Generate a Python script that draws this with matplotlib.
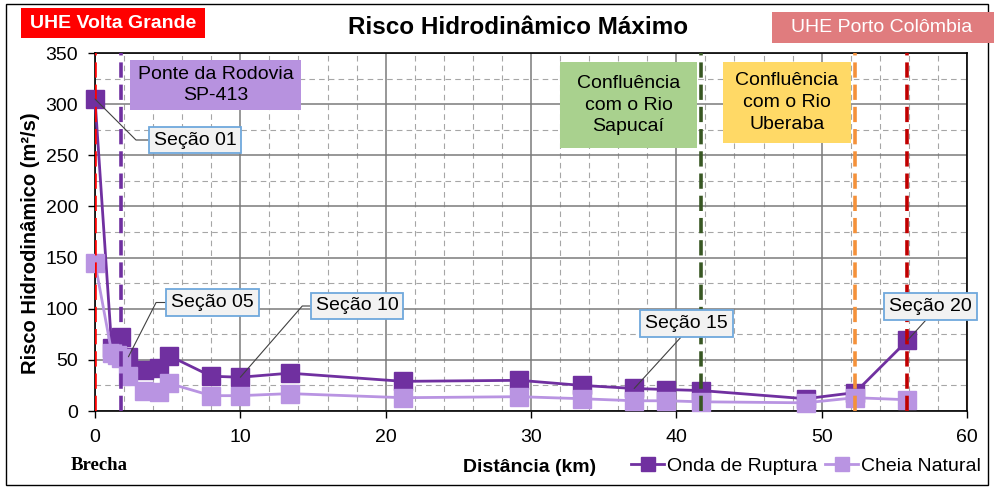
import matplotlib
matplotlib.use("Agg")
import matplotlib.pyplot as plt
from matplotlib.patches import Rectangle
from matplotlib.ticker import MultipleLocator

plt.rcParams["font.family"] = ["Liberation Sans", "DejaVu Sans"]
plt.rcParams["lines.scale_dashes"] = False

# Distance downstream of the breach (km) and maximum hydrodynamic risk (m²/s)
dist_km = [0.0, 1.15, 1.5, 1.8, 2.3, 3.4, 4.4, 5.1, 8.0, 10.0, 13.4,
           21.2, 29.2, 33.5, 37.1, 39.3, 41.7, 48.9, 52.3, 55.9]
onda_ruptura = [305, 62, 66, 72, 53, 40, 42, 54, 34, 33, 37,
                29, 30, 25, 22, 21, 20, 12, 18, 69]
cheia_natural = [145, 57, 55, 52, 34, 20, 19, 27, 15, 15, 17,
                 13, 14, 12, 10, 10, 9, 8, 13, 11]

series_names = ["Onda de Ruptura", "Cheia Natural"]
series_colors = ["#7030a0", "#b994e2"]

# Labelled cross-sections (index into dist_km)
section_labels = ["Seção 01", "Seção 05", "Seção 10", "Seção 15", "Seção 20"]
section_idx = [0, 4, 9, 14, 19]

# Reference positions along the river (km)
ref_km = [0.0, 1.77, 41.7, 52.3, 55.9]
ref_colors = ["#ff0000", "#7030a0", "#385723", "#f4913a", "#c00000"]

W, H = 995, 490
fig = plt.figure(figsize=(W / 100, H / 100), dpi=100)
ax = fig.add_axes([95 / W, 1 - 411 / H, 872 / W, 358 / H])


def fig_box(x0, y0, x1, y1, fc, ec="none", lw=0.0):
    """Rectangle given in image pixels (origin top-left)."""
    r = Rectangle((x0 / W, 1 - y1 / H), (x1 - x0) / W, (y1 - y0) / H,
                  transform=fig.transFigure, facecolor=fc, edgecolor=ec,
                  linewidth=lw, zorder=5)
    fig.patches.append(r)
    return ((x0 + x1) / 2 / W, 1 - (y0 + y1) / 2 / H)


# Grid
ax.set_xlim(0, 60)
ax.set_ylim(0, 350)
ax.xaxis.set_major_locator(MultipleLocator(10))
ax.xaxis.set_minor_locator(MultipleLocator(2))
ax.yaxis.set_major_locator(MultipleLocator(50))
ax.yaxis.set_minor_locator(MultipleLocator(25))
ax.grid(which="major", color="#7a7a7a", lw=1.1, ls="-")
ax.grid(which="minor", color="#a6a6a6", lw=0.8, ls=(0, (4, 3)))
ax.set_axisbelow(True)
for s in ax.spines.values():
    s.set_color("black")
    s.set_linewidth(1.2)
ax.tick_params(which="major", direction="out", length=5, width=1,
               labelsize=14, pad=7)
ax.tick_params(which="minor", length=0)
ax.tick_params(axis="x", pad=8)

# Series
line_handles = []
for vals, name, col in zip([onda_ruptura, cheia_natural], series_names, series_colors):
    h, = ax.plot(dist_km, vals, color=col, lw=2.0, marker="s", ms=12.5,
                 mec=col, mfc=col, label=name, zorder=3, clip_on=False)
    line_handles.append(h)

# Reference dashed verticals
for km, col in zip(ref_km, ref_colors):
    ax.axvline(km, color=col, lw=2.6, ls=(0, (11, 5)), zorder=4)

# Section call-outs
px_per_km = 872 / 60
px_per_unit = 358 / 350


def to_data(px, py):
    return (px - 95) / px_per_km, (411 - py) / px_per_unit


callout_centers = [(195, 140), (212.5, 302.5), (357, 306), (686.5, 323.5), (930.5, 306.5)]
callout_conn = ["angle,angleA=0,angleB=-45,rad=0",
                "angle,angleA=0,angleB=63,rad=0",
                "angle,angleA=0,angleB=49,rad=0",
                "arc3,rad=0",
                "arc3,rad=0"]
callout_relpos = [(0.5, 0.5), (0.5, 0.5), (0.5, 0.5), (0.49, 0.0), (0.5, 0.0)]
for lab, i, c, conn, rp in zip(section_labels, section_idx, callout_centers,
                               callout_conn, callout_relpos):
    ax.annotate(lab, xy=(dist_km[i], onda_ruptura[i]), xytext=to_data(*c),
                textcoords="data", ha="center", va="center", fontsize=14,
                annotation_clip=False, zorder=6,
                bbox=dict(boxstyle="square,pad=0.25", fc="#f2f2f2",
                          ec="#6fa8dc", lw=1.3),
                arrowprops=dict(arrowstyle="-", color="#404040", lw=0.8,
                                connectionstyle=conn, relpos=rp,
                                shrinkA=0, shrinkB=0))

# Landmark boxes
cx, cy = fig_box(130, 60, 301, 110, "#b792df")
fig.text(cx, cy, "Ponte da Rodovia\nSP-413", ha="center", va="center",
         fontsize=14, linespacing=1.35, zorder=6)
cx, cy = fig_box(560, 62, 697, 148, "#a9d18e")
fig.text(cx, cy, "Confluência\ncom o Rio\nSapucaí", ha="center", va="center",
         fontsize=14, linespacing=1.35, zorder=6)
cx, cy = fig_box(723, 62, 851, 143, "#ffd966")
fig.text(cx, cy, "Confluência\ncom o Rio\nUberaba", ha="center", va="center",
         fontsize=14, linespacing=1.35, zorder=6)

# Dam labels
cx, cy = fig_box(21, 8, 205, 38, "#ff0000")
fig.text(cx, cy, "UHE Volta Grande", ha="center", va="center",
         fontsize=14, fontweight="bold", color="white", zorder=6)
cx, cy = fig_box(772, 12, 995, 43, "#e07c7e")
fig.text(cx - 2 / W, cy, "UHE Porto Colômbia", ha="center", va="center",
         fontsize=14, color="white", zorder=6)

# Titles and axis labels
fig.text(518 / W, 1 - 27 / H, "Risco Hidrodinâmico Máximo", ha="center",
         va="center", fontsize=17.5, fontweight="bold")
ax.set_ylabel("Risco Hidrodinâmico (m²/s)", fontsize=14.5, fontweight="bold")
ax.yaxis.set_label_coords(-0.063, 0.47)
fig.text(530 / W, 1 - 467 / H, "Distância (km)", ha="center", va="center",
         fontsize=14, fontweight="bold")
fig.text(99 / W, 1 - 465 / H, "Brecha", ha="center", va="center",
         fontsize=13.5, fontweight="bold",
         family=["Liberation Serif", "DejaVu Serif"])

# Legend
fig.legend(handles=line_handles, loc="center",
           bbox_to_anchor=(806 / W, 1 - 466 / H), ncol=2, frameon=False,
           fontsize=14, handlelength=1.7, handletextpad=0.15,
           columnspacing=0.4, markerscale=0.75)

# Outer frame
fig.patches.append(Rectangle((6 / W, 1 - 485 / H), 982 / W, 481 / H,
                             transform=fig.transFigure, fill=False,
                             edgecolor="black", lw=1.0, zorder=0))

fig.savefig("out.png", dpi=100)
